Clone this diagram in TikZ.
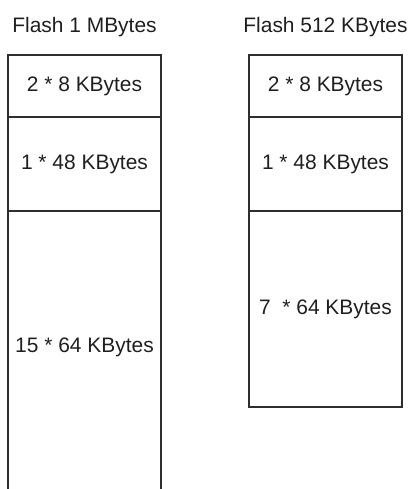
\documentclass[tikz,border=0pt]{standalone}
\usepackage{fontspec}
\setmainfont{Liberation Sans}
\usetikzlibrary{positioning}

\begin{document}
\begin{tikzpicture}[
    every node/.style={font=\fontsize{14.9}{18}\selectfont, text=black!88},
    block/.style={draw=black!82, line width=1.55pt, minimum width=3.825cm, inner sep=0pt, outer sep=0pt},
    openblock/.style={minimum width=3.825cm, inner sep=0pt, outer sep=0pt},
    side/.style={draw=black!82, line width=1.55pt},
    title/.style={anchor=center}
  ]

    \useasboundingbox (0,0) rectangle (10.3,-12.225);

    % Flash 1 MBytes
    \node[block, minimum height=1.55cm, anchor=north west] (la) at (0.2,-1.375) {2 * 8 KBytes};
    \node[block, minimum height=2.35cm, below=0pt of la] (lb) {1 * 48 KBytes};
    \node[openblock, minimum height=6.8cm, below=0pt of lb] (lc) {15 * 64 KBytes};
    \coordinate (lcw) at (lc.west |- 0,-12.225);
    \coordinate (lce) at (lc.east |- 0,-12.225);
    \draw[side] (lc.north west) -- (lcw);
    \draw[side] (lc.north east) -- (lce);
    \node[title] (lt) at ([yshift=0.7cm]la.north) {Flash 1 MBytes};

    % Flash 512 KBytes
    \node[block, minimum height=1.55cm, anchor=north west] (ra) at (6.225,-1.375) {2 * 8 KBytes};
    \node[block, minimum height=2.35cm, below=0pt of ra] (rb) {1 * 48 KBytes};
    \node[block, minimum height=4.9cm, below=0pt of rb] (rc) {7\ \ * 64 KBytes};
    \node[title] (rt) at ([yshift=0.7cm]ra.north) {Flash 512 KBytes};

  \end{tikzpicture}
\end{document}
